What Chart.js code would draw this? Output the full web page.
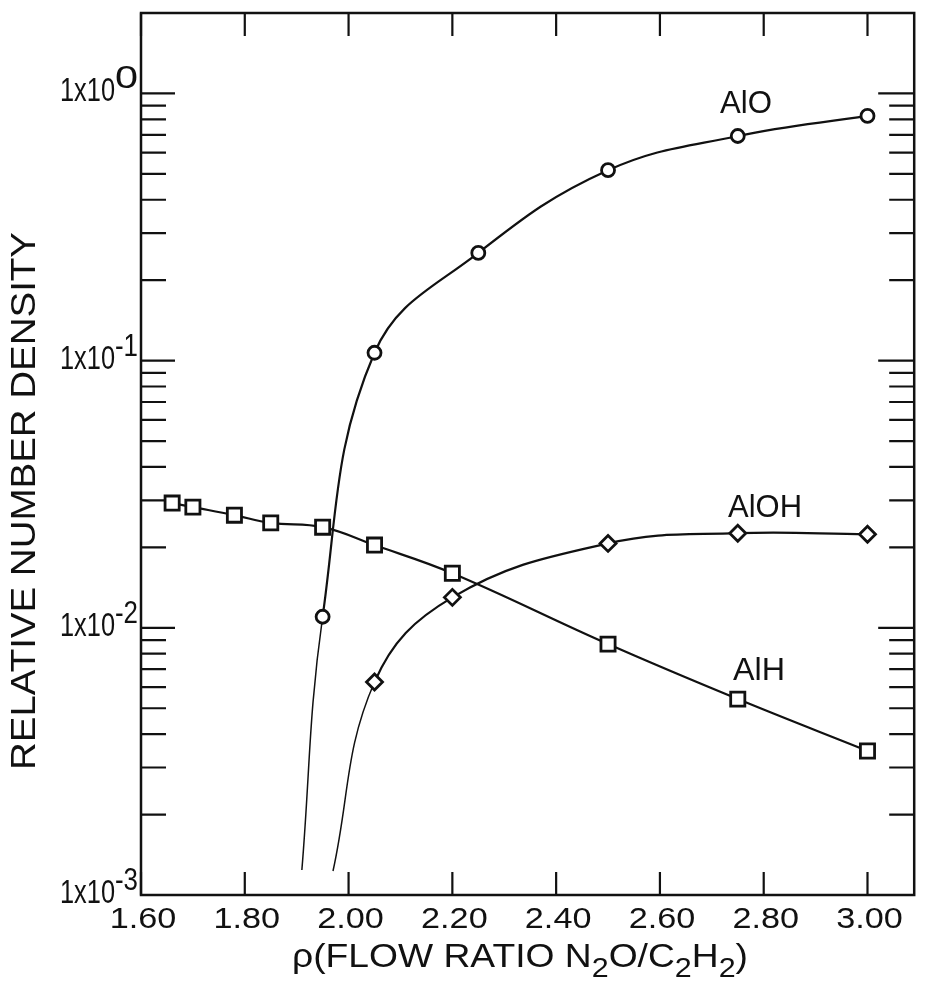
<!DOCTYPE html>
<html>
<head>
<meta charset="utf-8">
<script src="https://cdn.jsdelivr.net/npm/chart.js@4/dist/chart.umd.min.js"></script>
<style>
  html, body { margin: 0; padding: 0; background: #fff; }
  #grafico { display: block; }
</style>
</head>
<body>
<canvas id="grafico" width="927" height="982"></canvas>
<script>
// valores
var aloRho = [1.95, 2.05, 2.25, 2.50, 2.75, 3.00];
var aloDens = [0.0110, 0.107, 0.253, 0.516, 0.693, 0.824];
var aloCola = [1.91, 0.00124];   // tramo extrapolado sin marcador

var alohRho = [2.05, 2.20, 2.50, 2.75, 3.00];
var alohDens = [0.00627, 0.0130, 0.0207, 0.0226, 0.0224];
var alohCola = [1.97, 0.00123];

var alhRho = [1.66, 1.70, 1.78, 1.85, 1.95, 2.05, 2.20, 2.50, 2.75, 3.00];
var alhDens = [0.0293, 0.0283, 0.0264, 0.0247, 0.0238, 0.0204, 0.0160, 0.00869, 0.00541, 0.00346];

var xTicks = [1.6, 1.8, 2.0, 2.2, 2.4, 2.6, 2.8, 3.0];
var xTickLabels = ['1.60', '1.80', '2.00', '2.20', '2.40', '2.60', '2.80', '3.00'];
var yDecadas = [1, 0.1, 0.01, 0.001];
var yExponentes = ['0', '-1', '-2', '-3'];

var NEGRO = '#111';
var FUENTE = '"Liberation Sans", Arial, sans-serif';

function puntos(rho, dens, cola) {
    var p = [];
    if (cola) p.push({ x: cola[0], y: cola[1], cola: true });
    for (var i = 0; i < rho.length; i++) p.push({ x: rho[i], y: dens[i] });
    return p;
}

function serie(nombre, datos, estilo, radio) {
    return {
        label: nombre,
        data: datos,
        borderColor: NEGRO,
        borderWidth: 2.2,
        tension: 0.4,
        pointStyle: estilo,
        pointRadius: function (c) { return c.raw && c.raw.cola ? 0 : radio; },
        pointBorderWidth: 2.8,
        pointBorderColor: NEGRO,
        pointBackgroundColor: '#fff',
        segment: {
            borderWidth: function (c) { return datos[c.p0DataIndex].cola ? 1.5 : undefined; }
        }
    };
}

// texto con escala horizontal (las letras del original son anchas)
function texto(ctx, s, x, y, size, sx, align) {
    ctx.font = size + 'px ' + FUENTE;
    var w = ctx.measureText(s).width;
    ctx.save();
    ctx.translate(x, y);
    ctx.scale(sx, 1);
    var x0 = align === 'center' ? -w / 2 : (align === 'right' ? -w : 0);
    ctx.fillText(s, x0, 0);
    ctx.restore();
}

function ajustar(ctx, s, size, ancho) {
    ctx.font = size + 'px ' + FUENTE;
    return ancho / ctx.measureText(s).width;
}

var marco = {
    id: 'marco',
    afterDraw: function (chart) {
        var ctx = chart.ctx;
        var a = chart.chartArea;
        var sx = chart.scales.x, sy = chart.scales.y;
        ctx.save();
        ctx.strokeStyle = NEGRO;
        ctx.fillStyle = NEGRO;
        ctx.lineWidth = 2.5;
        ctx.strokeRect(a.left, a.top, a.right - a.left, a.bottom - a.top);

        // marcas del eje x arriba y abajo
        ctx.lineWidth = 2.2;
        ctx.beginPath();
        xTicks.forEach(function (v) {
            var px = sx.getPixelForValue(v);
            ctx.moveTo(px, a.bottom); ctx.lineTo(px, a.bottom - 23);
            ctx.moveTo(px, a.top); ctx.lineTo(px, a.top + 23);
        });
        ctx.stroke();

        // marcas logaritmicas a los dos lados
        ctx.beginPath();
        yDecadas.forEach(function (d) {
            var py = sy.getPixelForValue(d);
            ctx.moveTo(a.left, py); ctx.lineTo(a.left + 34, py);
            ctx.moveTo(a.right, py); ctx.lineTo(a.right - 36, py);
            if (d >= 1) return;
            for (var k = 2; k <= 9; k++) {
                var pm = sy.getPixelForValue(d * k);
                ctx.moveTo(a.left, pm); ctx.lineTo(a.left + 25, pm);
                ctx.moveTo(a.right, pm); ctx.lineTo(a.right - 25, pm);
            }
        });
        ctx.stroke();

        ctx.textBaseline = 'alphabetic';
        // etiquetas eje x
        xTicks.forEach(function (v, i) {
            texto(ctx, xTickLabels[i], sx.getPixelForValue(v) + 2, 928, 29, 1.18, 'center');
        });

        // etiquetas eje y: 1x10 con exponente
        yDecadas.forEach(function (d, i) {
            var py = sy.getPixelForValue(d);
            texto(ctx, '1x10', 60, py + 8, 33, ajustar(ctx, '1x10', 33, 55), 'left');
            var e = yExponentes[i];
            texto(ctx, e, 115, py - 5, 31, ajustar(ctx, e, 31, 23), 'left');
        });

        // titulo eje y
        ctx.save();
        ctx.translate(35, 770);
        ctx.rotate(-Math.PI / 2);
        var ty = 'RELATIVE NUMBER DENSITY';
        texto(ctx, ty, 0, 0, 35, ajustar(ctx, ty, 35, 538), 'left');
        ctx.restore();

        // titulo eje x con subindices
        var trozos = [['\u03c1(FLOW RATIO N', 0], ['2', 1], ['O/C', 0], ['2', 1], ['H', 0], ['2', 1], [')', 0]];
        var total = 0;
        trozos.forEach(function (t) {
            ctx.font = (t[1] ? 27 : 33) + 'px ' + FUENTE;
            total += ctx.measureText(t[0]).width;
        });
        var esc = 456 / total;
        var px = 292;
        trozos.forEach(function (t) {
            var size = t[1] ? 27 : 33;
            ctx.font = size + 'px ' + FUENTE;
            var w = ctx.measureText(t[0]).width;
            texto(ctx, t[0], px, t[1] ? 977 : 967, size, esc, 'left');
            px += w * esc;
        });

        // nombres de las curvas
        texto(ctx, 'AlO', 720, 113, 32, ajustar(ctx, 'AlO', 32, 52), 'left');
        texto(ctx, 'AlOH', 728, 517, 32, ajustar(ctx, 'AlOH', 32, 74), 'left');
        texto(ctx, 'AlH', 733, 680, 32, ajustar(ctx, 'AlH', 32, 52), 'left');
        ctx.restore();
    }
};

new Chart(document.getElementById('grafico'), {
    type: 'line',
    data: {
        datasets: [
            serie('AlO', puntos(aloRho, aloDens, aloCola), 'circle', 6.5),
            serie('AlOH', puntos(alohRho, alohDens, alohCola), 'rectRot', 8),
            serie('AlH', puntos(alhRho, alhDens), 'rect', 10)
        ]
    },
    options: {
        responsive: false,
        animation: false,
        layout: { padding: { left: 141, top: 13, right: 1, bottom: 87 } },
        plugins: { legend: { display: false }, tooltip: { enabled: false } },
        scales: {
            x: { type: 'linear', min: 1.6, max: 3.09, display: false },
            y: { type: 'logarithmic', min: 0.001, max: 2, display: false }
        }
    },
    plugins: [marco]
});
</script>
</body>
</html>
